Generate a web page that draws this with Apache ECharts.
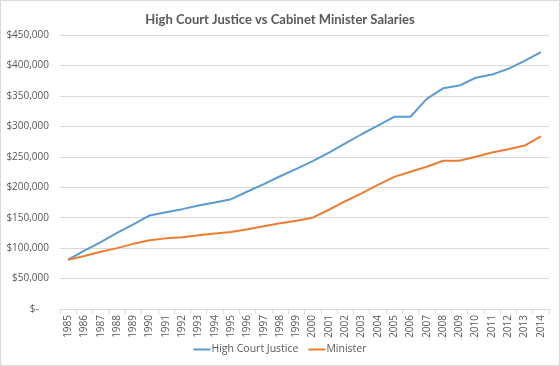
<!DOCTYPE html>
<html>
<head>
<meta charset="utf-8">
<script src="https://cdn.jsdelivr.net/npm/echarts@6/dist/echarts.min.js"></script>
<style>
html,body{margin:0;padding:0;background:#fff;}
#c{width:560px;height:366px;box-sizing:border-box;border:1px solid #d9d9d9;}
</style>
</head>
<body>
<div id="c"></div>
<script>
const years = ['1985','1986','1987','1988','1989','1990','1991','1992','1993','1994','1995','1996','1997','1998','1999','2000','2001','2002','2003','2004','2005','2006','2007','2008','2009','2010','2011','2012','2013','2014'];
const highCourtJustice = [81000,96000,110000,125000,139000,153600,159000,164000,170000,175000,180400,193000,205000,218000,230000,242900,257000,272000,287000,301000,315700,315700,345000,362400,367000,379800,385000,394500,407500,422000];
const minister = [81000,87000,94000,100000,107000,113000,116000,118000,121000,124000,126600,131000,136000,141000,145000,150000,163000,177000,190000,204000,217000,225500,233700,243400,243400,250000,257000,262400,268400,283600];
const seriesNames = ['High Court Justice','Minister'];
const chartTitle = 'High Court Justice vs Cabinet Minister Salaries';

const FONT = 'Open Sans';
const chart = echarts.init(document.getElementById('c'));
chart.setOption({
  animation: false,
  color: ['#5B9BD5','#ED7D31'],
  title: {
    text: chartTitle, left: 'center', top: 7,
    textStyle: {fontFamily: 'Lato', fontSize: 13, fontWeight: 'bold', color: '#595959'}
  },
  legend: {
    bottom: 5, left: 'center', itemWidth: 17, itemHeight: 2, itemGap: 10,
    icon: 'rect',
    textStyle: {fontFamily: FONT, fontSize: 10.5, color: '#595959', padding: [0, 0, 0, -4]},
    data: seriesNames
  },
  grid: {left: 59, right: 10, top: 34, bottom: 56, containLabel: false},
  xAxis: {
    type: 'category', data: years, boundaryGap: true,
    axisLine: {lineStyle: {color: '#d9d9d9'}},
    axisTick: {show: true, length: 5, lineStyle: {color: '#d9d9d9'}},
    axisLabel: {rotate: 90, interval: 0, fontFamily: FONT, fontSize: 10, color: '#595959', margin: 6}
  },
  yAxis: {
    type: 'value', min: 0, max: 450000, interval: 50000,
    axisLine: {show: false}, axisTick: {show: false},
    splitLine: {lineStyle: {color: '#d9d9d9'}},
    axisLabel: {
      fontFamily: FONT, fontSize: 10, color: '#595959', margin: 11,
      formatter: v => v === 0 ? '$-    ' : '$' + v.toLocaleString('en-US')
    }
  },
  series: [
    {name: seriesNames[0], type: 'line', data: highCourtJustice, showSymbol: false, symbol: 'none', lineStyle: {width: 2}},
    {name: seriesNames[1], type: 'line', data: minister, showSymbol: false, symbol: 'none', lineStyle: {width: 2}}
  ]
});
</script>
</body>
</html>
